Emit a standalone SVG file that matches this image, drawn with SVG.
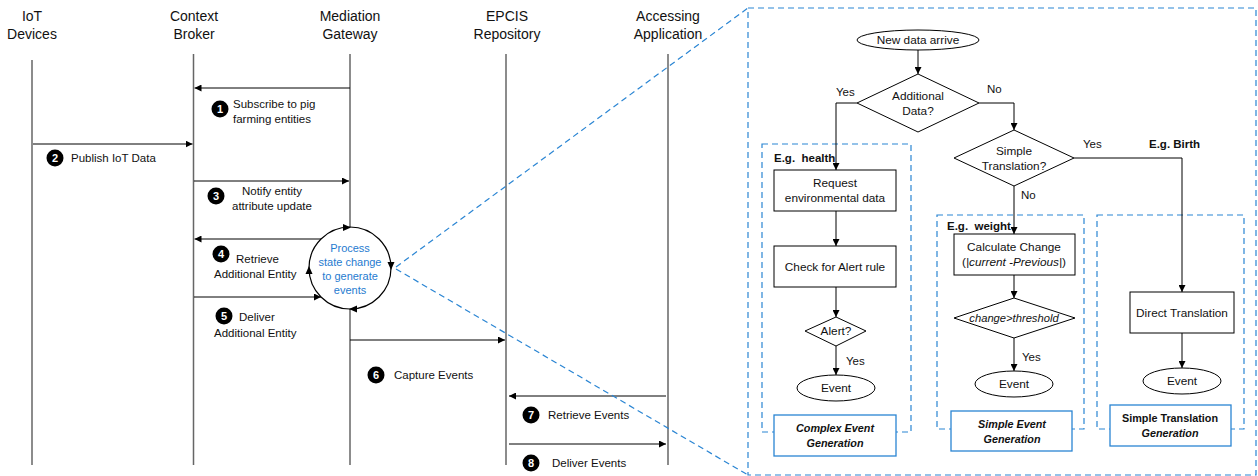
<svg xmlns="http://www.w3.org/2000/svg" width="1258" height="476" viewBox="0 0 1258 476">
<defs>
<marker id="ah" viewBox="0 0 8 8" refX="8" refY="4" markerWidth="7" markerHeight="7" markerUnits="userSpaceOnUse" orient="auto"><path d="M0,0 L8,4 L0,8 z" fill="#000"/></marker>
<style>
text{font-family:"Liberation Sans",Arial,sans-serif;fill:#111}
.hd{font-size:14px;text-anchor:middle}
.lb{font-size:11.5px}
.fc{font-size:11.8px;text-anchor:middle}
.gb{font-size:10.8px;text-anchor:middle;font-weight:bold}
.bd{font-weight:bold}
.it{font-style:italic}
.bl{fill:#1f7bd0;font-size:11px;text-anchor:middle}
.num{fill:#fff;font-size:11px;font-weight:bold;text-anchor:middle}
.life{stroke:#666;stroke-width:1.5;fill:none}
.msg{stroke:#000;stroke-width:1;fill:none;marker-end:url(#ah)}
.dash{stroke:#2a85d3;stroke-width:1.2;fill:none;stroke-dasharray:6,4}
.box{fill:#fff;stroke:#000;stroke-width:1}
.gbox{fill:#fff;stroke:#2a85d3;stroke-width:1.3}
</style>
</defs>
<rect width="1258" height="476" fill="#fff"/>

<g id="lifelines">
<text class="hd" x="32" y="21">IoT</text><text class="hd" x="32" y="39">Devices</text>
<text class="hd" x="194" y="21">Context</text><text class="hd" x="194" y="39">Broker</text>
<text class="hd" x="350" y="21">Mediation</text><text class="hd" x="350" y="39">Gateway</text>
<text class="hd" x="507" y="21">EPCIS</text><text class="hd" x="507" y="39">Repository</text>
<text class="hd" x="668" y="21">Accessing</text><text class="hd" x="668" y="39">Application</text>
<line class="life" x1="32" y1="60" x2="32" y2="465"/>
<line class="life" x1="193.5" y1="54" x2="193.5" y2="465"/>
<line class="life" x1="350" y1="54" x2="350" y2="227"/>
<line class="life" x1="350" y1="309" x2="350" y2="465"/>
<line class="life" x1="506" y1="54" x2="506" y2="465"/>
<line class="life" x1="668" y1="54" x2="668" y2="465"/>
</g>

<g id="process">
<circle cx="350" cy="268" r="41" fill="#fff" stroke="#000" stroke-width="1.2"/>
<path d="M343,224 L351,227.5 L343,231 z" fill="#000"/>
<path d="M387.5,262 L391,270 L394.5,262 z" fill="#000"/>
<path d="M357,305.5 L349,309 L357,312.5 z" fill="#000"/>
<path d="M305.5,274 L309,266 L312.5,274 z" fill="#000"/>
<text class="bl" x="350" y="252">Process</text>
<text class="bl" x="350" y="266">state change</text>
<text class="bl" x="350" y="280">to generate</text>
<text class="bl" x="350" y="294">events</text>
</g>

<g id="messages">
<line class="msg" x1="350" y1="88" x2="194.5" y2="88"/>
<line class="msg" x1="33" y1="144" x2="192.5" y2="144"/>
<line class="msg" x1="194" y1="181" x2="349" y2="181"/>
<line class="msg" x1="321" y1="239" x2="194.5" y2="239"/>
<line class="msg" x1="194" y1="297" x2="321" y2="297"/>
<line class="msg" x1="350" y1="340" x2="505" y2="340"/>
<line class="msg" x1="666" y1="396" x2="509" y2="396"/>
<line class="msg" x1="509" y1="444" x2="666" y2="444"/>
</g>

<g id="labels">
<circle cx="220" cy="109" r="8.5" fill="#000"/><text class="num" x="220" y="113">1</text>
<text class="lb" x="233" y="108">Subscribe to pig</text><text class="lb" x="233" y="123">farming entities</text>
<circle cx="55" cy="158" r="8.5" fill="#000"/><text class="num" x="55" y="162">2</text>
<text class="lb" x="71" y="162">Publish IoT Data</text>
<circle cx="216" cy="196" r="8.5" fill="#000"/><text class="num" x="216" y="200">3</text>
<text class="lb" x="272" y="195" text-anchor="middle">Notify entity</text><text class="lb" x="272" y="210" text-anchor="middle">attribute update</text>
<circle cx="221" cy="254" r="8.5" fill="#000"/><text class="num" x="221" y="258">4</text>
<text class="lb" x="236" y="263">Retrieve</text><text class="lb" x="214" y="278">Additional Entity</text>
<circle cx="224" cy="316" r="8.5" fill="#000"/><text class="num" x="224" y="320">5</text>
<text class="lb" x="239" y="321">Deliver</text><text class="lb" x="214" y="337">Additional Entity</text>
<circle cx="376" cy="375" r="8.5" fill="#000"/><text class="num" x="376" y="379">6</text>
<text class="lb" x="394" y="379">Capture Events</text>
<circle cx="531" cy="415" r="8.5" fill="#000"/><text class="num" x="531" y="419">7</text>
<text class="lb" x="548" y="419">Retrieve Events</text>
<circle cx="531" cy="463" r="8.5" fill="#000"/><text class="num" x="531" y="467">8</text>
<text class="lb" x="552" y="467">Deliver Events</text>
</g>

<g id="zoom-lines">
<line class="dash" x1="396" y1="267" x2="748" y2="8"/>
<line class="dash" x1="396" y1="269" x2="748" y2="475"/>
<rect x="748" y="8" width="508" height="467" class="dash"/>
</g>

<g id="groups">
<rect x="762" y="144" width="149" height="288" class="dash"/>
<rect x="937" y="215" width="147" height="214" class="dash"/>
<rect x="1097" y="215" width="147" height="214" class="dash"/>
<text class="lb bd" x="774" y="162" xml:space="preserve">E.g.  health</text>
<text class="lb bd" x="947" y="230" xml:space="preserve">E.g.  weight</text>
<text class="lb bd" x="1149" y="148">E.g. Birth</text>
</g>

<g id="flow-connectors">
<line class="msg" x1="918" y1="50" x2="918" y2="74"/>
<polyline class="msg" points="857,103 836,103 836,170"/>
<polyline class="msg" points="979,103 1014,103 1014,130"/>
<polyline class="msg" points="1074,158 1182,158 1182,292"/>
<line class="msg" x1="1014" y1="186" x2="1014" y2="234"/>
<line class="msg" x1="836" y1="211" x2="836" y2="246"/>
<line class="msg" x1="836" y1="287" x2="836" y2="317"/>
<line class="msg" x1="836" y1="346" x2="836" y2="375"/>
<line class="msg" x1="1014" y1="275" x2="1014" y2="298"/>
<line class="msg" x1="1014" y1="338" x2="1014" y2="371"/>
<line class="msg" x1="1182" y1="333" x2="1182" y2="368"/>
<text class="lb" x="836" y="96">Yes</text>
<text class="lb" x="987" y="93">No</text>
<text class="lb" x="1083" y="148">Yes</text>
<text class="lb" x="1021" y="199">No</text>
<text class="lb" x="846" y="365">Yes</text>
<text class="lb" x="1022" y="361">Yes</text>
</g>

<g id="n-start"><ellipse cx="918" cy="40" rx="61" ry="10" class="box"/><text class="fc" x="918" y="44">New data arrive</text></g>
<g id="n-additional"><polygon points="918,74 979,103 918,132 857,103" class="box"/><text class="fc" x="918" y="100">Additional</text><text class="fc" x="918" y="115">Data?</text></g>
<g id="n-simple"><polygon points="1014,130 1074,158 1014,186 954,158" class="box"/><text class="fc" x="1014" y="155">Simple</text><text class="fc" x="1014" y="170">Translation?</text></g>

<g id="n-request"><rect x="774" y="170" width="122" height="41" class="box"/><text class="fc" x="835" y="187">Request</text><text class="fc" x="835" y="202">environmental data</text></g>
<g id="n-check"><rect x="774" y="246" width="122" height="41" class="box"/><text class="fc" x="835" y="271">Check for Alert rule</text></g>
<g id="n-alert"><polygon points="836,317 866,331 836,346 805,331" class="box"/><text class="fc" x="836" y="335">Alert?</text></g>
<g id="n-event1"><ellipse cx="836" cy="388" rx="39" ry="13" class="box"/><text class="fc" x="836" y="392">Event</text></g>
<g id="n-complex"><rect x="774" y="415" width="122" height="41" class="gbox"/><text class="gb it" x="835" y="432">Complex Event</text><text class="gb it" x="835" y="447">Generation</text></g>

<g id="n-calc"><rect x="954" y="234" width="121" height="41" class="box"/><text class="fc" x="1014" y="251">Calculate Change</text><text class="fc" x="1014" y="266">(<tspan class="it">|current -Previous|</tspan>)</text></g>
<g id="n-threshold"><polygon points="1014,298 1075,318 1014,338 954,318" class="box"/><text class="fc it" x="1014" y="322" style="font-size:11.2px">change&gt;threshold</text></g>
<g id="n-event2"><ellipse cx="1014" cy="384" rx="39" ry="13" class="box"/><text class="fc" x="1014" y="388">Event</text></g>
<g id="n-simpleevent"><rect x="951" y="411" width="121" height="40" class="gbox"/><text class="gb it" x="1012" y="428">Simple Event</text><text class="gb it" x="1012" y="443">Generation</text></g>

<g id="n-direct"><rect x="1130" y="292" width="104" height="41" class="box"/><text class="fc" x="1182" y="317">Direct Translation</text></g>
<g id="n-event3"><ellipse cx="1182" cy="381" rx="39" ry="13" class="box"/><text class="fc" x="1182" y="385">Event</text></g>
<g id="n-simpletrans"><rect x="1110" y="405" width="121" height="41" class="gbox"/><text class="gb" x="1170" y="422">Simple Translation</text><text class="gb it" x="1170" y="437">Generation</text></g>
</svg>
